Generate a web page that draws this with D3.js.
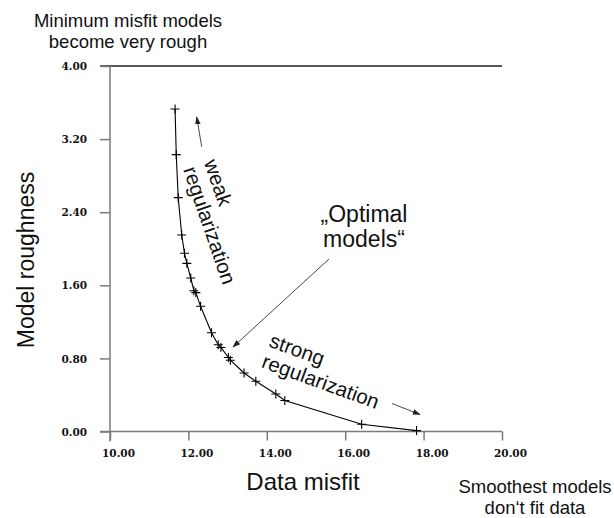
<!DOCTYPE html>
<html>
<head>
<meta charset="utf-8">
<script src="https://cdn.jsdelivr.net/npm/d3@7"></script>
<style>
  html, body { margin: 0; padding: 0; background: #fff; }
  svg { display: block; }
</style>
</head>
<body>
<svg id="chart" width="614" height="518"></svg>
<script>
// L-curve: data misfit vs. model roughness for a sequence of regularization strengths
const misfit    = [11.66, 11.69, 11.74, 11.83, 11.90, 11.96, 12.06, 12.14, 12.19, 12.31, 12.59,
                   12.76, 12.83, 13.02, 13.07, 13.42, 13.72, 14.23, 14.46, 16.42, 17.82];
const roughness = [3.53, 3.03, 2.56, 2.15, 1.95, 1.84, 1.68, 1.54, 1.52, 1.37, 1.08,
                   0.95, 0.92, 0.81, 0.78, 0.64, 0.55, 0.41, 0.34, 0.08, 0.01];
const xTicks = [10, 12, 14, 16, 18, 20];
const yTicks = [0, 0.8, 1.6, 2.4, 3.2, 4.0];

const svg = d3.select("#chart");
const x = d3.scaleLinear().domain([10, 20]).range([110, 502]);
const y = d3.scaleLinear().domain([0, 4]).range([431.5, 66]);

const axisColor = "#7a7a7a";
const tickFont = "'DejaVu Serif', serif";
const sans = "'Liberation Sans', Arial, Helvetica, sans-serif";

// top frame line
svg.append("line")
  .attr("x1", 100).attr("x2", x(20))
  .attr("y1", y(4)).attr("y2", y(4))
  .attr("stroke", "#222").attr("stroke-width", 1.3);

// y axis
const yAxis = svg.append("g").attr("transform", `translate(${x(10)},0)`)
  .call(d3.axisLeft(y).tickValues(yTicks).tickSize(10).tickSizeOuter(0).tickFormat(d3.format(".2f")));
yAxis.select(".domain").attr("stroke", axisColor).attr("stroke-width", 1.5)
  .attr("d", `M0,${y(4)}V${y(0) + 10}`);
yAxis.selectAll(".tick line").attr("stroke", axisColor).attr("stroke-width", 1.5);
yAxis.selectAll(".tick text")
  .attr("x", -23).attr("dy", "0.35em")
  .attr("font-family", tickFont).attr("font-weight", "bold").attr("font-size", 10.5)
  .attr("fill", "#111");

// x axis
const xAxis = svg.append("g").attr("transform", `translate(0,${y(0)})`)
  .call(d3.axisBottom(x).tickValues(xTicks).tickSize(9).tickSizeOuter(0).tickFormat(d3.format(".2f")));
xAxis.select(".domain").attr("stroke", axisColor).attr("stroke-width", 1.5)
  .attr("d", `M100,0H${x(20)}`);
xAxis.selectAll(".tick line").attr("stroke", axisColor).attr("stroke-width", 1.5);
xAxis.selectAll(".tick text")
  .attr("y", 18).attr("dx", 8).attr("dy", "0.71em")
  .attr("font-family", tickFont).attr("font-weight", "bold").attr("font-size", 10.5)
  .attr("fill", "#111");

// curve
const pts = misfit.map((m, i) => [m, roughness[i]]);
const line = d3.line().x(d => x(d[0])).y(d => y(d[1]));
svg.append("path").datum(pts)
  .attr("d", line).attr("fill", "none").attr("stroke", "#000").attr("stroke-width", 1.1);

// "+" markers
const arm = 4.5;
svg.append("g").selectAll("path").data(pts).join("path")
  .attr("d", d => {
    const cx = x(d[0]), cy = y(d[1]);
    return `M${cx - arm},${cy}H${cx + arm}M${cx},${cy - arm}V${cy + arm}`;
  })
  .attr("stroke", "#000").attr("stroke-width", 1.1).attr("fill", "none");

// arrowheads
const defs = svg.append("defs");
defs.append("marker").attr("id", "arrow")
  .attr("viewBox", "0 0 10 10").attr("refX", 9).attr("refY", 5)
  .attr("markerWidth", 8).attr("markerHeight", 8).attr("orient", "auto")
  .attr("markerUnits", "userSpaceOnUse")
  .append("path").attr("d", "M0,1.5L10,5L0,8.5Z").attr("fill", "#222");

function arrow(x1, y1, x2, y2) {
  svg.append("line")
    .attr("x1", x1).attr("y1", y1).attr("x2", x2).attr("y2", y2)
    .attr("stroke", "#333").attr("stroke-width", 0.9)
    .attr("marker-end", "url(#arrow)");
}
arrow(201.7, 146.7, 196.7, 117);
arrow(329, 259, 233, 347);
arrow(392, 403.5, 420, 414.5);

// rotated annotations, lines start-aligned; (sx, sy) is where the last line begins
function rotText(lines, sx, sy, angle, size, lh) {
  const g = svg.append("g").attr("transform", `translate(${sx},${sy}) rotate(${angle})`);
  lines.forEach((t, i) => {
    g.append("text").text(t)
      .attr("x", 0).attr("y", (i - (lines.length - 1)) * lh)
      .attr("text-anchor", "start").attr("dominant-baseline", "central")
      .attr("font-family", sans).attr("font-size", size).attr("fill", "#111");
  });
}
rotText(["weak", "regularization"], 190, 167, 71, 20.5, 22);
rotText(["strong", "regularization"], 263, 360, 20, 20.5, 22);

function block(lines, cx, baseline, size, lh) {
  lines.forEach((t, i) => {
    svg.append("text").text(t)
      .attr("x", cx).attr("y", baseline + i * lh)
      .attr("text-anchor", "middle")
      .attr("font-family", sans).attr("font-size", size).attr("fill", "#111");
  });
}
block(["\u201EOptimal", "models\u201C"], 364, 222, 23, 25);
block(["Minimum misfit models", "become very rough"], 128, 27, 18.5, 20.5);
block(["Smoothest models", "don\u2018t fit data"], 535, 493, 18.5, 21);
block(["Data misfit"], 303, 490, 24, 0);

// y axis title
svg.append("text").text("Model roughness")
  .attr("transform", "translate(34,260) rotate(-90)")
  .attr("text-anchor", "middle")
  .attr("font-family", sans).attr("font-size", 23).attr("fill", "#111");
</script>
</body>
</html>
